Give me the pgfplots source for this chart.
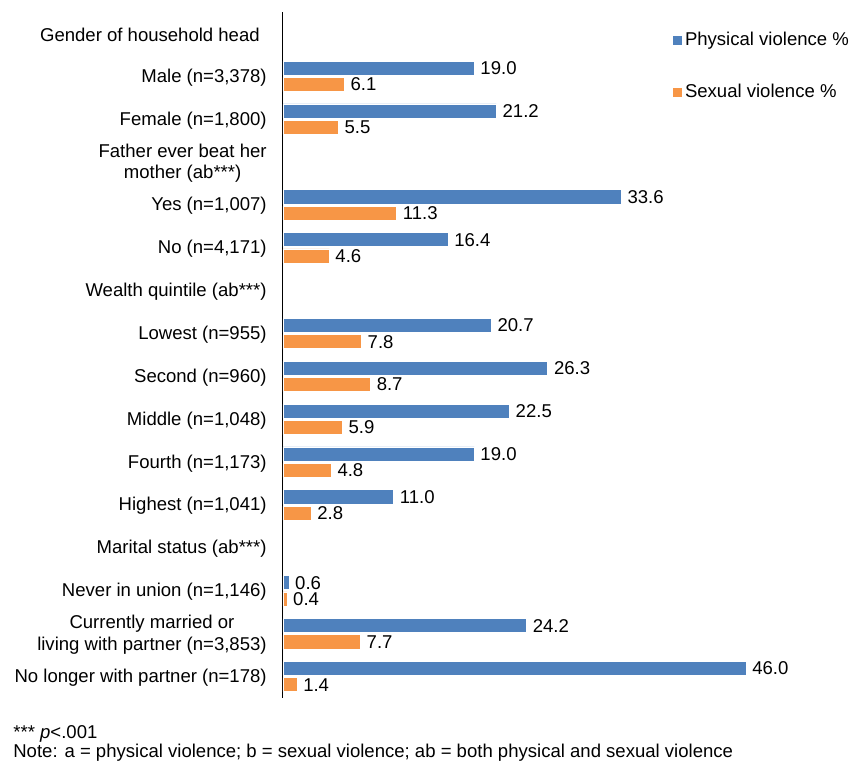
\documentclass[border=0pt]{standalone}
\usepackage{fontspec}
\setmainfont{Liberation Sans}
\usepackage{pgfplots}
\pgfplotsset{compat=1.18}
\definecolor{phys}{HTML}{4F81BD}
\definecolor{sexv}{HTML}{F79646}
\begin{document}
\fontsize{10.2pt}{12pt}\selectfont
\begin{tikzpicture}[font=\fontsize{10.2pt}{11.9pt}\selectfont]
\begin{axis}[
  name=ax,
  scale only axis,
  width=304.6pt, height=377.3pt,
  xmin=0, xmax=55,
  ymin=-0.5, ymax=15.5,
  y dir=reverse,
  axis x line=none,
  axis y line=left,
  axis line style={-, line width=0.55pt},
  ytick={0,...,15},
  major tick length=0pt,
  yticklabels={
    {Gender of household head\hspace*{3.8pt}},
    {Male (n=3,378)},
    {Female (n=1,800)},
    {Father ever beat her\\mother (ab***)},
    {Yes (n=1,007)},
    {No (n=4,171)},
    {Wealth quintile (ab***)},
    {Lowest (n=955)},
    {Second (n=960)},
    {Middle (n=1,048)},
    {Fourth (n=1,173)},
    {Highest (n=1,041)},
    {Marital status (ab***)},
    {Never in union (n=1,146)},
    {Currently married or\\living with partner (n=3,853)},
    {No longer with partner (n=178)}
  },
  yticklabel style={align=center, inner sep=0pt, xshift=-8.8pt, yshift=-0.6pt},
  xbar,
  bar width=0.33,
  /pgf/number format/assume math mode=true,
  nodes near coords={\pgfmathprintnumber[fixed,fixed zerofill,precision=1]{\pgfplotspointmeta}},
  nodes near coords style={anchor=west, inner sep=3.2pt},
  point meta=explicit,
  clip=false,
  legend image code/.code={\fill[#1] (0pt,-2.75pt) rectangle (5.5pt,2.75pt);},
  legend style={draw=none, fill=none, at={(axis cs:38.1,-0.17)}, anchor=north west,
    row sep=17.8pt, nodes={inner sep=1.0pt}},
  legend cell align=left,
]
\addplot[fill=phys, draw=white, line width=0.4pt, bar shift=-0.19] coordinates {
  (19.0,1) [19.0] (21.2,2) [21.2] (33.6,4) [33.6] (16.4,5) [16.4]
  (20.7,7) [20.7] (26.3,8) [26.3] (22.5,9) [22.5] (19.0,10) [19.0] (11.0,11) [11.0]
  (0.6,13) [0.6] (24.2,14) [24.2] (46.0,15) [46.0]
};
\addlegendentry{Physical violence \%}
\addplot[fill=sexv, draw=white, line width=0.4pt, bar shift=0.19] coordinates {
  (6.1,1) [6.1] (5.5,2) [5.5] (11.3,4) [11.3] (4.6,5) [4.6]
  (7.8,7) [7.8] (8.7,8) [8.7] (5.9,9) [5.9] (4.8,10) [4.8] (2.8,11) [2.8]
  (0.4,13) [0.4] (7.7,14) [7.7] (1.4,15) [1.4]
};
\addlegendentry{Sexual violence \%}
\end{axis}
\node[anchor=west, inner sep=0pt] at ([shift={(-148.5pt,-19.9pt)}]ax.south west) {*** \textit{p}<.001};
\node[anchor=west, inner sep=0pt] at ([shift={(-148.5pt,-30.3pt)}]ax.south west) {Note: a = physical violence; b = sexual violence; ab = both physical and sexual violence};
\pgfresetboundingbox
\path ([shift={(-155.65pt,6.6pt)}]ax.north west) rectangle ([shift={(312.95pt,-34.65pt)}]ax.south west);
\end{tikzpicture}
\end{document}
